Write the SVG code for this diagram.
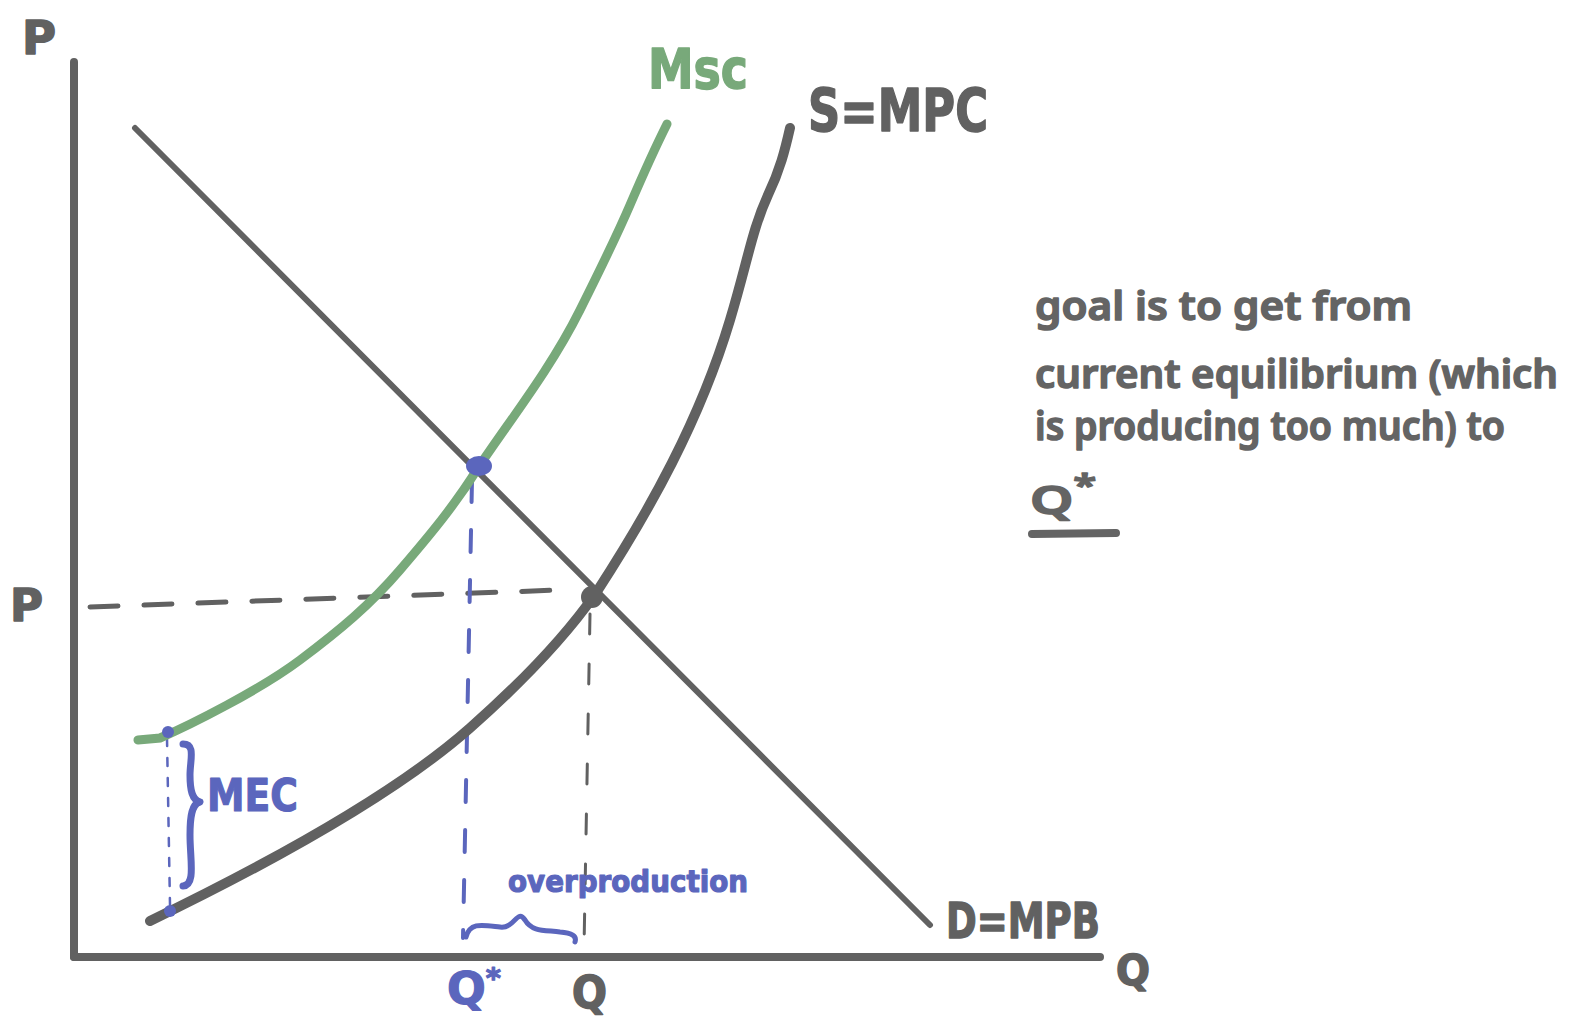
<svg xmlns="http://www.w3.org/2000/svg" width="1573" height="1016" viewBox="0 0 1573 1016">
<style>
.ax{stroke:#616161;stroke-width:8;fill:none;stroke-linecap:round}
.gray{fill:#616161;font-family:"DejaVu Sans",sans-serif;font-weight:bold;stroke:#616161;stroke-width:1.5;stroke-linejoin:round}
.blue{fill:#5b66bd;font-family:"DejaVu Sans",sans-serif;font-weight:bold;stroke:#5b66bd;stroke-width:1.2;stroke-linejoin:round}
.green{fill:#78a97a;font-family:"DejaVu Sans",sans-serif;font-weight:bold;stroke:#78a97a;stroke-width:1.5;stroke-linejoin:round}
.hand{fill:#646464;font-family:"Noto Sans",sans-serif;font-weight:600;font-size:40px;stroke:#646464;stroke-width:1.5;stroke-linejoin:round}
</style>
<rect width="1573" height="1016" fill="#ffffff"/>
<g id="axes">
<line class="ax" x1="74" y1="62" x2="74" y2="957"/>
<line class="ax" x1="74" y1="957" x2="1100" y2="957"/>
<text class="gray" x="22" y="54" font-size="46" textLength="34" lengthAdjust="spacingAndGlyphs">P</text>
<text class="gray" x="10" y="621" font-size="44" textLength="33" lengthAdjust="spacingAndGlyphs">P</text>
<text class="gray" x="1116" y="985" font-size="42" textLength="34" lengthAdjust="spacingAndGlyphs">Q</text>
<text class="gray" x="572" y="1008" font-size="44" textLength="35" lengthAdjust="spacingAndGlyphs">Q</text>
<text class="blue" x="447" y="1004" font-size="44" textLength="54" lengthAdjust="spacingAndGlyphs">Q<tspan font-size="28" dy="-16">*</tspan></text>
</g>
<g id="connectors">
<path d="M90,607 L560,590" stroke="#616161" stroke-width="5" stroke-dasharray="28 26" stroke-linecap="round" fill="none"/>
<path d="M590,614 L584,948" stroke="#616161" stroke-width="3" stroke-dasharray="20 30" stroke-linecap="round" fill="none"/>
<path d="M472,480 L463,938" stroke="#5b66bd" stroke-width="4" stroke-dasharray="22 28" stroke-linecap="round" fill="none"/>
<path d="M167,738 L170,905" stroke="#5b66bd" stroke-width="2.5" stroke-dasharray="8 12" stroke-linecap="round" fill="none"/>
</g>
<g id="demand">
<line x1="135" y1="128" x2="930" y2="925" stroke="#616161" stroke-width="6" stroke-linecap="round"/>
<text class="gray" x="946" y="938" font-size="50" textLength="154" lengthAdjust="spacingAndGlyphs">D=MPB</text>
</g>
<g id="supply">
<path d="M150,921 C280,858 400,790 470,728 C530,675 570,630 596,593 C650,510 700,420 730,320 C748,260 752,230 768,195 C780,170 785,150 790,128" stroke="#616161" stroke-width="10" fill="none" stroke-linecap="round"/>
<text class="gray" x="808" y="131" font-size="58" textLength="180" lengthAdjust="spacingAndGlyphs">S=MPC</text>
</g>
<g id="msc">
<path d="M138,740 L160,738 C190,725 260,690 300,660 C340,630 370,605 400,570 C430,535 455,505 478,468 C510,420 550,370 580,310 C600,270 615,240 630,205 C645,170 655,148 667,124" stroke="#78a97a" stroke-width="9" fill="none" stroke-linecap="round"/>
<text class="green" x="648" y="88" font-size="56" textLength="100" lengthAdjust="spacingAndGlyphs">Msc</text>
</g>
<g id="points">
<ellipse cx="479" cy="466" rx="13" ry="10" fill="#5b66bd"/>
<circle cx="592" cy="597" r="11" fill="#616161"/>
<circle cx="168" cy="732" r="6" fill="#5b66bd"/>
<circle cx="170" cy="911" r="6" fill="#5b66bd"/>
</g>
<g id="mec">
<path d="M183,744 C196,744 190,760 190,775 C190,790 192,800 200,802 C192,804 190,815 190,835 C190,860 196,885 183,886" stroke="#5b66bd" stroke-width="7" fill="none" stroke-linecap="round" stroke-linejoin="round"/>
<text class="blue" x="207" y="811" font-size="44" textLength="91" lengthAdjust="spacingAndGlyphs">MEC</text>
</g>
<g id="overproduction">
<path d="M466,937 C470,922 482,925 500,927 C515,929 517,908 525,920 C532,932 545,930 560,932 C572,933 577,936 575,942" stroke="#5b66bd" stroke-width="5" fill="none" stroke-linecap="round" stroke-linejoin="round"/>
<text class="blue" x="508" y="892" font-size="30" font-weight="normal" textLength="240" lengthAdjust="spacingAndGlyphs">overproduction</text>
</g>
<g id="note">
<text class="hand" x="1035" y="320" textLength="377" lengthAdjust="spacingAndGlyphs">goal is to get from</text>
<text class="hand" x="1035" y="388" textLength="523" lengthAdjust="spacingAndGlyphs">current equilibrium (which</text>
<text class="hand" x="1035" y="440" textLength="470" lengthAdjust="spacingAndGlyphs">is producing too much) to</text>
<text class="hand" x="1030" y="514" font-size="48" textLength="66" lengthAdjust="spacingAndGlyphs">Q<tspan font-size="30" dy="-18">*</tspan></text>
<line x1="1032" y1="534" x2="1116" y2="533" stroke="#646464" stroke-width="8" stroke-linecap="round"/>
</g>
</svg>
